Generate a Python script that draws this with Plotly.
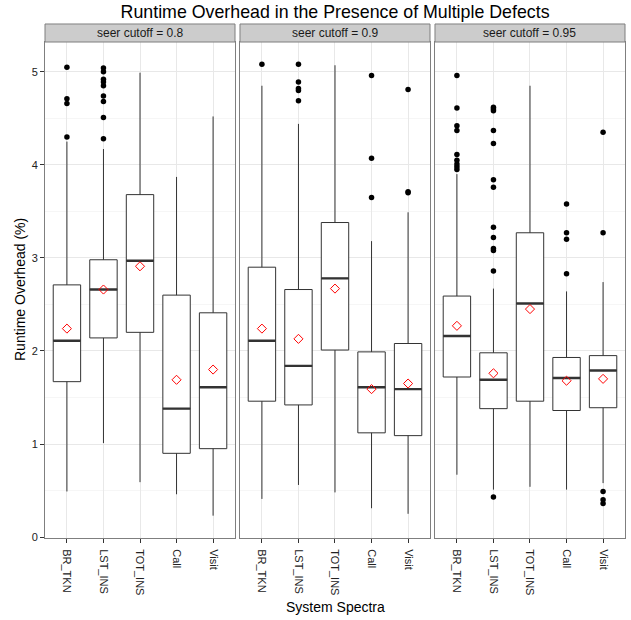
import plotly.graph_objects as go
from plotly.subplots import make_subplots

categories = ["BR_TKN", "LST_INS", "TOT_INS", "Call", "Visit"]
panel_titles = ["seer cutoff = 0.8", "seer cutoff = 0.9", "seer cutoff = 0.95"]

# seer cutoff = 0.8
lower_08 = [0.49, 1.01, 0.59, 0.46, 0.23]
q1_08 = [1.67, 2.14, 2.20, 0.90, 0.95]
med_08 = [2.11, 2.66, 2.97, 1.38, 1.61]
q3_08 = [2.71, 2.98, 3.68, 2.60, 2.41]
upper_08 = [4.25, 4.17, 4.99, 3.87, 4.52]
mean_08 = [2.24, 2.66, 2.91, 1.69, 1.80]
out_08 = [
    [4.30, 4.66, 4.71, 5.05],
    [4.28, 4.51, 4.68, 4.74, 4.85, 4.89, 4.92, 5.00, 5.04],
    [],
    [],
    [],
]

# seer cutoff = 0.9
lower_09 = [0.41, 0.56, 0.48, 0.31, 0.25]
q1_09 = [1.46, 1.42, 2.01, 1.12, 1.09]
med_09 = [2.11, 1.84, 2.78, 1.61, 1.59]
q3_09 = [2.90, 2.66, 3.38, 1.99, 2.08]
upper_09 = [4.85, 4.44, 5.07, 3.18, 3.49]
mean_09 = [2.24, 2.13, 2.67, 1.59, 1.65]
out_09 = [
    [5.08],
    [4.69, 4.80, 4.82, 4.89, 5.08],
    [],
    [3.65, 4.07, 4.96],
    [3.70, 3.71, 4.81],
]

# seer cutoff = 0.95
lower_095 = [0.67, 0.51, 0.54, 0.51, 0.58]
q1_095 = [1.72, 1.38, 1.46, 1.36, 1.39]
med_095 = [2.16, 1.69, 2.51, 1.71, 1.79]
q3_095 = [2.59, 1.98, 3.27, 1.93, 1.95]
upper_095 = [3.90, 2.67, 4.85, 2.64, 2.74]
mean_095 = [2.27, 1.76, 2.45, 1.68, 1.70]
out_095 = [
    [3.95, 3.98, 4.01, 4.05, 4.11, 4.37, 4.42, 4.61, 4.96],
    [0.43, 2.86, 3.08, 3.10, 3.22, 3.33, 3.76, 3.84, 4.23, 4.37, 4.58, 4.60, 4.62],
    [],
    [2.83, 3.20, 3.27, 3.58],
    [0.36, 0.40, 0.49, 3.27, 4.35],
]

y_ticks = [0, 1, 2, 3, 4, 5]

panels = [
    (lower_08, q1_08, med_08, q3_08, upper_08, mean_08, out_08),
    (lower_09, q1_09, med_09, q3_09, upper_09, mean_09, out_09),
    (lower_095, q1_095, med_095, q3_095, upper_095, mean_095, out_095),
]

FONT = "Liberation Sans, Arial, sans-serif"
BOXLINE = "#333333"

fig = make_subplots(rows=1, cols=3, shared_yaxes=True, horizontal_spacing=0.0086)

for i, (lo, q1, md, q3, up, mn, outs) in enumerate(panels):
    col = i + 1
    fig.add_trace(go.Box(
        x=categories, q1=q1, median=md, q3=q3, lowerfence=lo, upperfence=up,
        width=0.75, whiskerwidth=0, boxpoints=False,
        fillcolor="white", line=dict(color=BOXLINE, width=1),
        showlegend=False, hoverinfo="skip"), row=1, col=col)
    # thicker median bar
    fig.add_trace(go.Box(
        x=categories, q1=md, median=md, q3=md, lowerfence=md, upperfence=md,
        width=0.75, whiskerwidth=0, boxpoints=False,
        fillcolor="rgba(0,0,0,0)", line=dict(color=BOXLINE, width=2.4),
        showlegend=False, hoverinfo="skip"), row=1, col=col)
    ox, oy = [], []
    for c, vals in zip(categories, outs):
        for v in vals:
            ox.append(c)
            oy.append(v)
    fig.add_trace(go.Scatter(
        x=ox, y=oy, mode="markers",
        marker=dict(color="black", size=5.5),
        showlegend=False, hoverinfo="skip"), row=1, col=col)
    fig.add_trace(go.Scatter(
        x=categories, y=mn, mode="markers",
        marker=dict(symbol="diamond-open", color="red", size=7, line=dict(width=1, color="red")),
        showlegend=False, hoverinfo="skip"), row=1, col=col)

domains = [[0, 0.3276], [0.3362, 0.6638], [0.6724, 1.0]]
for i in range(3):
    xa = "xaxis" if i == 0 else f"xaxis{i+1}"
    fig.layout[xa].update(
        domain=domains[i], type="category", categoryorder="array", categoryarray=categories,
        range=[-0.6, 4.6], tickangle=90, ticks="outside", ticklen=4, tickcolor="#333333",
        ticklabelstandoff=4,
        tickfont=dict(family=FONT, size=11, color="#222222"),
        showgrid=True, gridcolor="#E8E8E8", gridwidth=1, automargin=False,
        showline=True, linecolor="#7F7F7F", linewidth=1, mirror=True, zeroline=False)
    ya = "yaxis" if i == 0 else f"yaxis{i+1}"
    fig.layout[ya].update(
        range=[-0.01, 5.32], tickvals=y_ticks, ticks="outside" if i == 0 else "",
        ticklen=4, tickcolor="#333333", automargin=False,
        showticklabels=(i == 0),
        tickfont=dict(family=FONT, size=11, color="#222222"),
        showgrid=True, gridcolor="#E8E8E8", gridwidth=1,
        minor=dict(dtick=0.5, tick0=0.5, showgrid=True, gridcolor="#F6F6F6", ticks=""),
        showline=True, linecolor="#7F7F7F", linewidth=1, mirror=True, zeroline=False)
    xref = "x domain" if i == 0 else f"x{i+1} domain"
    fig.add_shape(type="rect", xref=xref, yref="paper", x0=0, x1=1, y0=1.0, y1=1.0363,
                  fillcolor="#CCCCCC", line=dict(color="#7F7F7F", width=1), layer="above")
    fig.add_annotation(xref=xref, yref="paper", x=0.5, y=1.0181, text=panel_titles[i],
                       showarrow=False, xanchor="center", yanchor="middle",
                       font=dict(family=FONT, size=12, color="#1A1A1A"))

fig.add_annotation(xref="paper", yref="paper", x=0.5, y=-0.139, text="System Spectra",
                   showarrow=False, xanchor="center", yanchor="middle",
                   font=dict(family=FONT, size=14, color="black"))
fig.add_annotation(xref="paper", yref="paper", x=-0.0431, y=0.5, text="Runtime Overhead (%)",
                   showarrow=False, textangle=-90, xanchor="center", yanchor="middle",
                   font=dict(family=FONT, size=14, color="black"))

fig.update_layout(
    width=631, height=620,
    margin=dict(l=45, r=6, t=42, b=82),
    paper_bgcolor="white", plot_bgcolor="white",
    boxmode="overlay",
    title=dict(text="Runtime Overhead in the Presence of Multiple Defects",
               x=0.531, xanchor="center", y=1 - 12 / 620, yanchor="middle",
               font=dict(family=FONT, size=17.8, color="black")),
)

fig.write_html("out.html", config={"displayModeBar": False},
               post_script="document.body.style.margin='0px';document.body.style.padding='0px';")
